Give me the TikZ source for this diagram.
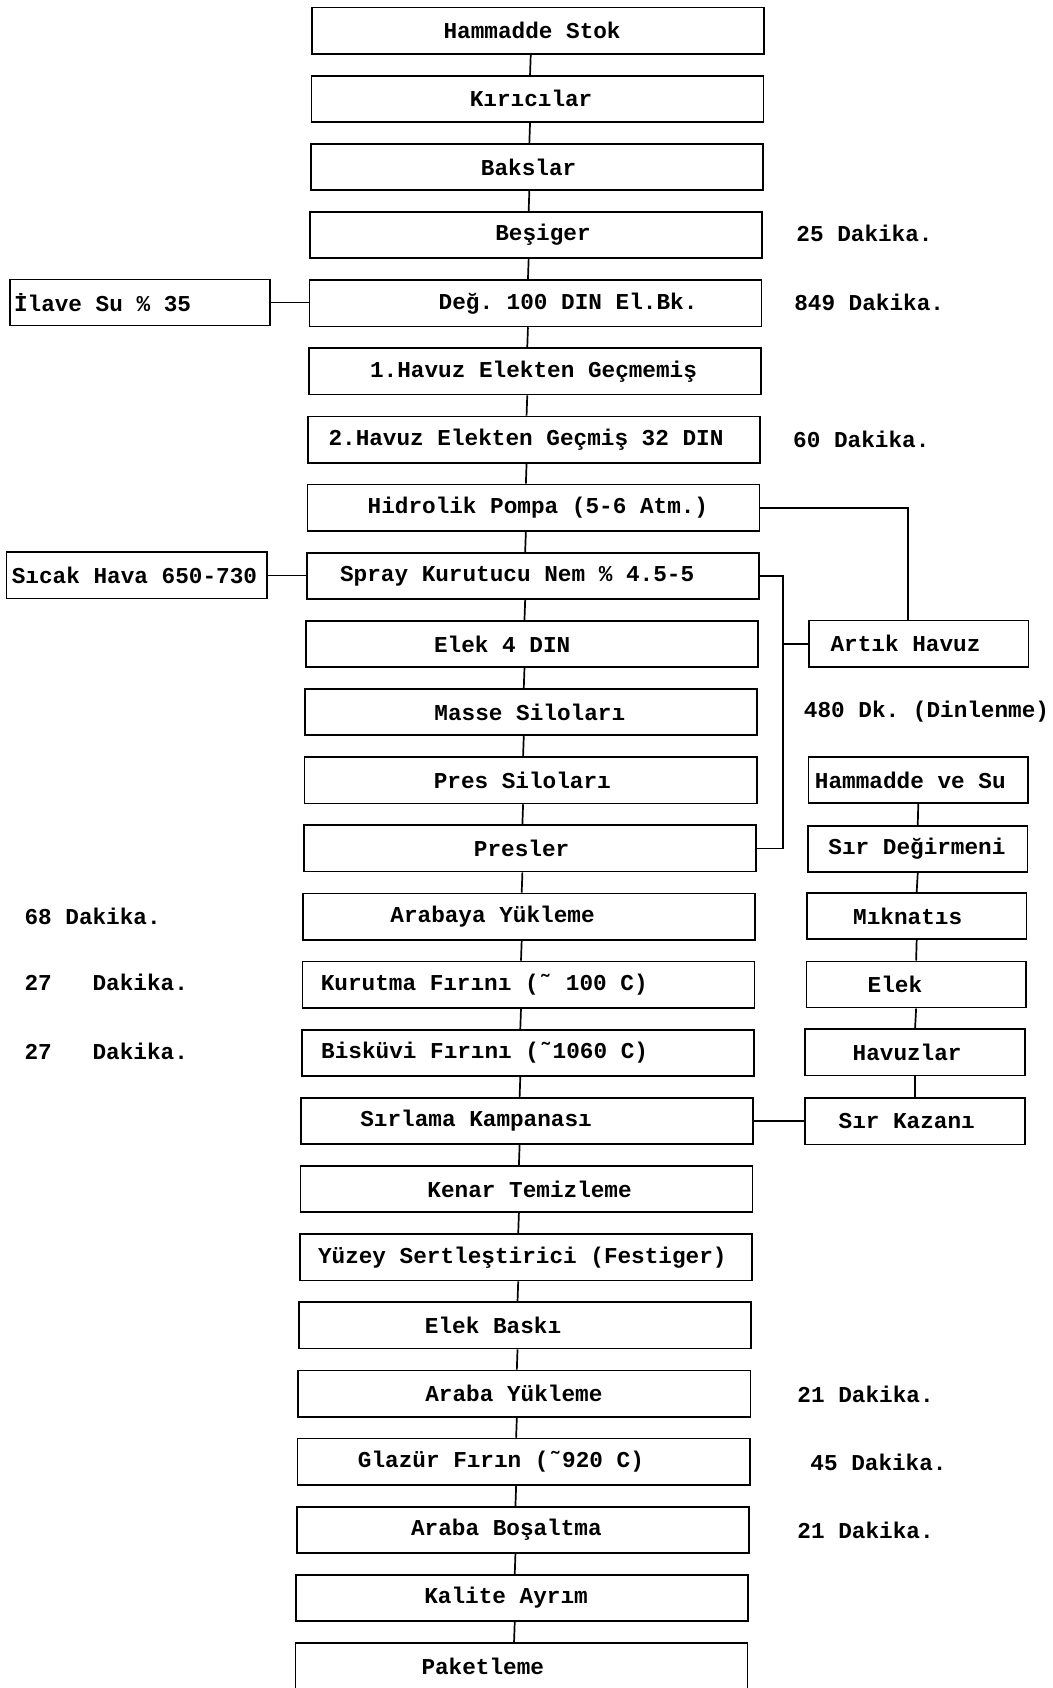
\documentclass[tikz,border=0pt]{standalone}
\usepackage{fontspec}
\setmonofont{Liberation Mono}
\newlength\pxu
\setlength\pxu{0.02cm}

\begin{document}
\begin{tikzpicture}[x=0.02cm, y=-0.02cm, line width=0.9pt,
  every node/.style={font=\ttfamily\bfseries\fontsize{12}{14}\selectfont\frenchspacing},
  proc/.style={draw, minimum height=0.86cm, text width=#1, inner xsep=0pt, inner ysep=0pt, align=flush left},
  proc/.default=8.4cm]
  \useasboundingbox (0,0) rectangle (978,1568);
  \foreach \i/\off/\lab in {0/122/{Hammadde Stok}, 1/147/{Kırıcılar}, 2/158/{Bakslar}, 3/172/{Beşiger}, 4/120/{Değ. 100 DIN El.Bk.}, 5/57/{1.Havuz Elekten Geçmemiş}, 6/19/{2.Havuz Elekten Geçmiş 32 DIN}, 7/56/{Hidrolik Pompa (5-6 Atm.)}, 8/31/{Spray Kurutucu Nem \% 4.5-5}, 9/119/{Elek 4 DIN}, 10/120/{Masse Siloları}, 11/120/{Pres Siloları}, 12/158/{Presler}, 13/81/{Arabaya Yükleme}, 14/17/{Kurutma Fırını (˜ 100 C)}, 15/18/{Bisküvi Fırını (˜1060 C)}, 16/55/{Sırlama Kampanası}, 17/118/{Kenar Temizleme}, 18/17/{Yüzey Sertleştirici (Festiger)}, 19/117/{Elek Baskı}, 20/118/{Araba Yükleme}, 21/56/{Glazür Fırın (˜920 C)}, 22/106/{Araba Boşaltma}, 23/119/{Kalite Ayrım}, 24/117/{Paketleme}} {
    \node[proc] (m\i) at ({500-0.646*\i},{28.5+63.3*\i}) {\hspace*{\off\pxu}\lab};
  }
  \foreach \i [evaluate=\i as \j using int(\i-1)] in {1,...,24}
    \draw ([xshift=-0.14cm]m\j.south) -- ([xshift=-0.14cm]m\i.north);
  \foreach \n/\x/\y/\off/\lab in {ah/853.5/598/20/{Artık Havuz}, hs/853/724.5/6/{Hammadde ve Su}, sd/852.5/788.5/19/{Sır Değirmeni}, mk/851.5/851/43/{Mıknatıs}, el/851/914.5/57/{Elek}, hv/850/977.5/44/{Havuzlar}, sk/850/1041.5/31/{Sır Kazanı}}
    \node[proc=4.08cm] (\n) at (\x,\y) {\hspace*{\off\pxu}\lab};
  \foreach \n/\x/\y/\off/\lab in {il/130/281/4/{İlave Su \% 35}, sh/127/534.5/5/{Sıcak Hava 650-730}}
    \node[proc=4.84cm] (\n) at (\x,\y) {\hspace*{\off\pxu}\lab};
  \foreach \a/\b in {hs/sd, sd/mk, mk/el, el/hv, hv/sk}
    \draw (\a.south) -- (\b.north);
  \draw (il.east) -- (il.east -| m4.west);
  \draw (sh.east) -- (sh.east -| m8.west);
  \draw (sk.west) -- (sk.west -| m16.east);
  \draw (m7.east) -| ([xshift=-0.2cm]ah.north);
  \draw (m8.east) -- ++(22,0) coordinate (br) |- (m12.east);
  \draw (ah.west) -- (ah.west -| br);
  \foreach \n/\x/\y/\lab in {d1/739/217/{25 Dakika.}, d2/737/281/{849 Dakika.}, d3/736/408/{60 Dakika.}, d4/746/661/{480 Dk. (Dinlenme)}, d5/22/851/{68 Dakika.}, d6/22/913/{27\ \ \ Dakika.}, d7/22/977/{27\ \ \ Dakika.}, d8/740/1295/{21 Dakika.}, d9/752/1358/{45 Dakika.}, d10/740/1422/{21 Dakika.}}
    \node[anchor=west, inner xsep=0pt] (\n) at (\x,\y) {\lab};
\end{tikzpicture}
\end{document}
